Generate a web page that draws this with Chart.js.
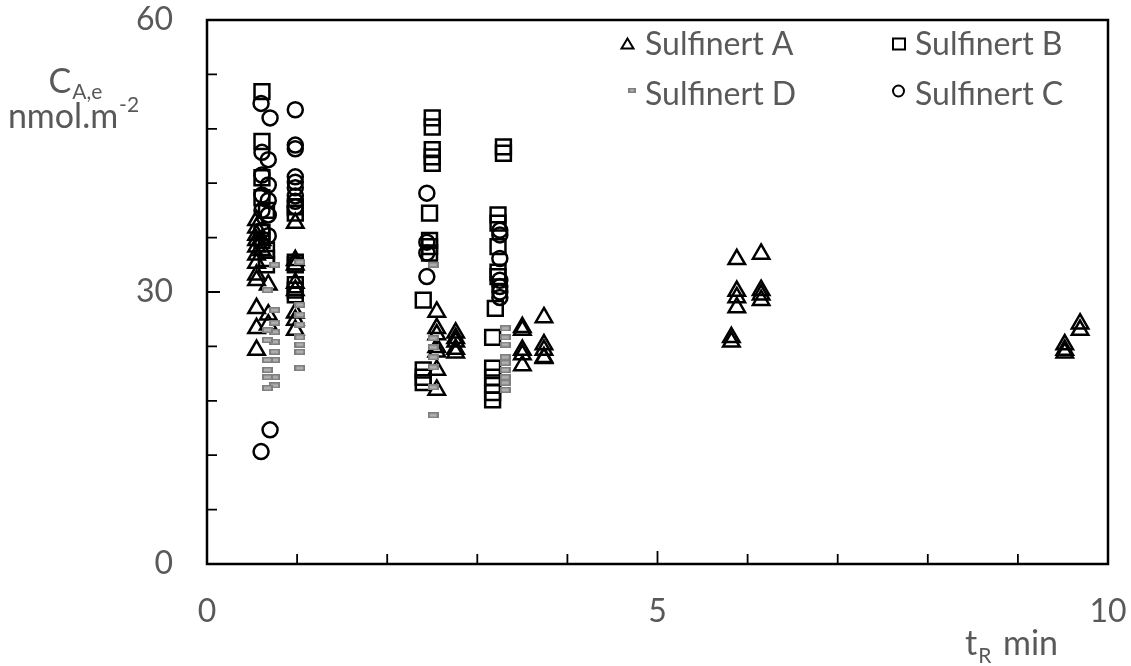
<!DOCTYPE html>
<html>
<head>
<meta charset="utf-8">
<title>Sulfinert C_A,e vs t_R</title>
<script src="https://cdn.jsdelivr.net/npm/chart.js@4.4.1/dist/chart.umd.min.js"></script>
<style>
  html, body { margin: 0; padding: 0; background: #fff; }
  #wrap { width: 1131px; height: 666px; position: relative; }
</style>
</head>
<body>
<div id="wrap"><canvas id="chart"></canvas></div>
<script>
// 保持時間 t_R (min) と C_A,e (nmol.m-2) — 図から読み取った値
const sulfinertA_t = [0.55, 0.55, 0.55, 0.55, 0.55, 0.55, 0.55, 0.55, 0.55, 0.55, 0.55, 0.55,
  0.61, 0.61, 0.68, 0.68, 0.68,
  0.98, 0.98, 0.98, 0.98, 0.98, 0.98, 0.98, 0.98,
  2.55, 2.55, 2.55, 2.55, 2.55, 2.55, 2.55,
  2.76, 2.76, 2.76, 2.76, 2.76,
  3.50, 3.50, 3.50, 3.50, 3.50,
  3.74, 3.74, 3.74, 3.74, 3.74,
  5.82, 5.82, 5.88, 5.88, 5.88, 5.88,
  6.15, 6.15, 6.15, 6.15,
  9.52, 9.52, 9.52, 9.69, 9.69];
const sulfinertA_c = [37.9, 37.1, 36.3, 35.7, 35.0, 34.1, 33.2, 31.9, 31.3, 28.2, 26.0, 23.6,
  35.7, 34.6, 30.8, 27.5, 26.4,
  37.6, 33.5, 33.0, 31.0, 30.2, 27.7, 26.9, 25.8,
  27.8, 26.0, 25.3, 23.9, 23.4, 21.4, 19.2,
  25.5, 24.9, 24.5, 23.7, 23.3,
  26.1, 25.8, 23.6, 23.1, 21.9,
  27.2, 24.2, 23.6, 22.8, 22.7,
  25.0, 24.5, 33.6, 30.1, 29.4, 28.3,
  34.2, 30.2, 29.7, 29.1,
  24.2, 23.6, 23.3, 26.5, 25.8];

const sulfinertB_t = [0.61, 0.61, 0.61, 0.61, 0.61, 0.61,
  0.66, 0.66, 0.66, 0.66,
  0.98, 0.98, 0.98, 0.98, 0.98, 0.98, 0.98,
  2.50, 2.50, 2.50, 2.50, 2.50,
  2.47, 2.47, 2.47, 2.47,
  2.40, 2.40, 2.40, 2.40,
  3.29, 3.29,
  3.23, 3.23, 3.23, 3.23, 3.23,
  3.20,
  3.17, 3.17, 3.17, 3.17, 3.17, 3.17];
const sulfinertB_c = [52.1, 46.6, 42.6, 40.4, 36.6, 35.7,
  39.0, 34.6, 33.7, 33.0,
  39.4, 38.7, 33.3, 33.0, 30.8, 30.2, 29.7,
  49.2, 48.2, 45.7, 44.9, 44.2,
  38.7, 35.7, 35.0, 34.3,
  29.1, 21.4, 20.6, 20.0,
  46.0, 45.3,
  38.5, 37.6, 35.0, 32.2, 31.7,
  28.2,
  25.0, 21.6, 20.6, 19.7, 18.9, 18.1];

const sulfinertC_t = [0.60, 0.60, 0.70, 0.70,
  0.61, 0.61, 0.61, 0.61, 0.61,
  0.68, 0.68, 0.68, 0.68, 0.68,
  0.98, 0.98, 0.98, 0.98, 0.98, 0.98, 0.98, 0.98, 0.98,
  2.44, 2.44, 2.44, 2.44,
  3.25, 3.25, 3.25, 3.25, 3.25, 3.25, 3.25];
const sulfinertC_c = [50.8, 12.4, 49.2, 14.8,
  45.4, 42.9, 40.7, 39.0, 36.8,
  44.6, 41.8, 40.1, 38.5, 36.2,
  50.1, 46.2, 45.8, 42.7, 42.1, 41.5, 40.6, 40.0, 39.4,
  40.9, 35.5, 34.3, 31.7,
  36.8, 36.3, 33.7, 31.3, 30.6, 30.0, 29.4];

const sulfinertD_t = [0.75, 0.75, 0.75, 0.75, 0.75, 0.75, 0.75, 0.75, 0.75,
  0.67, 0.67, 0.67, 0.67, 0.67, 0.67, 0.67,
  1.03, 1.03, 1.03, 1.03, 1.03, 1.03, 1.03, 1.03,
  2.51, 2.51, 2.51, 2.51, 2.51, 2.51, 2.51,
  3.31, 3.31, 3.31, 3.31, 3.31, 3.31, 3.31, 3.31, 3.31];
const sulfinertD_c = [33.0, 28.0, 26.6, 25.6, 24.5, 23.4, 22.5, 20.6, 19.7,
  30.2, 25.8, 24.7, 22.5, 21.4, 20.6, 19.4,
  33.3, 28.6, 27.5, 26.4, 25.0, 24.2, 23.4, 21.6,
  33.0, 24.9, 23.9, 22.8, 21.7, 19.5, 16.4,
  26.0, 25.0, 24.2, 22.8, 22.2, 21.4, 20.6, 20.0, 19.2];

// 軸の目盛り（ラベルは主目盛りだけ）
const xMajorTicks = [0, 5, 10];
const yMajorTicks = [0, 30, 60];

const TEXT_COLOR = "#595959";
const FONT = "Lato, 'Liberation Sans', sans-serif";

function toPoints(ts, cs) {
  return ts.map((t, i) => ({ x: t, y: cs[i] }));
}

// Sulfinert D の灰色の短い棒マーカー
function makeDashMarker(w, h) {
  const c = document.createElement("canvas");
  c.width = w;
  c.height = h;
  const g = c.getContext("2d");
  g.fillStyle = "#7f7f7f";
  g.fillRect(0, 0, w, h);
  g.fillStyle = "#b0b0b0";
  g.fillRect(2, 1.5, w - 4, h - 3);
  return c;
}

/**
 * 枠・内向きの目盛り・凡例・軸タイトルを描くプラグイン
 */
const decorPlugin = {
  id: "decor",
  afterDraw(chart) {
    const ctx = chart.ctx;
    const area = chart.chartArea;
    const xs = chart.scales.x;
    const ys = chart.scales.y;
    ctx.save();

    // 枠
    ctx.strokeStyle = "#000";
    ctx.lineWidth = 2.5;
    ctx.strokeRect(area.left, area.top, area.right - area.left, area.bottom - area.top);

    // 内向き目盛り
    ctx.lineWidth = 1.8;
    ctx.beginPath();
    for (let v = 0; v <= 10; v += 1) {
      const px = xs.getPixelForValue(v);
      const len = xMajorTicks.includes(v) ? 13 : 10;
      ctx.moveTo(px, area.bottom);
      ctx.lineTo(px, area.bottom - len);
    }
    for (let v = 0; v <= 60; v += 6) {
      const py = ys.getPixelForValue(v);
      const len = yMajorTicks.includes(v) ? 13 : 10;
      ctx.moveTo(area.left, py);
      ctx.lineTo(area.left + len, py);
    }
    ctx.stroke();

    // 凡例
    ctx.fillStyle = TEXT_COLOR;
    ctx.font = "32px " + FONT;
    ctx.textBaseline = "alphabetic";
    ctx.textAlign = "left";
    ctx.fillText("Sulfinert A", 645, 55);
    ctx.fillText("Sulfinert B", 915, 55);
    ctx.fillText("Sulfinert D", 645, 105);
    ctx.fillText("Sulfinert C", 915, 105);

    ctx.strokeStyle = "#000";
    ctx.lineWidth = 2;
    ctx.beginPath();
    ctx.moveTo(627.5, 38.5);
    ctx.lineTo(633.5, 48.5);
    ctx.lineTo(621.5, 48.5);
    ctx.closePath();
    ctx.stroke();
    ctx.strokeRect(893, 38.5, 12, 11);
    ctx.beginPath();
    ctx.arc(898.5, 91, 5.5, 0, Math.PI * 2);
    ctx.stroke();
    ctx.drawImage(makeDashMarker(8, 5), 628, 88);

    // Y 軸タイトル C_A,e / nmol.m-2
    ctx.fillStyle = TEXT_COLOR;
    ctx.font = "34px " + FONT;
    const cW = ctx.measureText("C").width;
    ctx.font = "21px " + FONT;
    const subW = ctx.measureText("A,e").width;
    let x0 = 75 - (cW + subW) / 2;
    ctx.font = "34px " + FONT;
    ctx.fillText("C", x0, 93);
    ctx.font = "21px " + FONT;
    ctx.fillText("A,e", x0 + cW + 1, 99);

    ctx.font = "34px " + FONT;
    const nW = ctx.measureText("nmol.m").width;
    ctx.font = "21px " + FONT;
    const supW = ctx.measureText("-2").width;
    x0 = 73 - (nW + supW) / 2;
    ctx.font = "34px " + FONT;
    ctx.fillText("nmol.m", x0, 128);
    ctx.font = "21px " + FONT;
    ctx.fillText("-2", x0 + nW + 1, 112);

    // X 軸タイトル t_R min
    ctx.font = "34px " + FONT;
    ctx.fillText("t", 965, 655);
    const tW = ctx.measureText("t").width;
    ctx.font = "21px " + FONT;
    ctx.fillText("R", 965 + tW + 1, 663);
    ctx.font = "34px " + FONT;
    ctx.fillText("min", 1003, 655);

    ctx.restore();
  },
};

const markerCommon = {
  backgroundColor: "rgba(0,0,0,0)",
  borderColor: "#000",
  borderWidth: 2.5,
};

new Chart(document.getElementById("chart"), {
  type: "scatter",
  data: {
    datasets: [
      {
        label: "Sulfinert D",
        data: toPoints(sulfinertD_t, sulfinertD_c),
        pointStyle: makeDashMarker(11, 6),
        pointRadius: 5,
      },
      {
        label: "Sulfinert A",
        data: toPoints(sulfinertA_t, sulfinertA_c),
        pointStyle: "triangle",
        pointRadius: 9.5,
        ...markerCommon,
      },
      {
        label: "Sulfinert B",
        data: toPoints(sulfinertB_t, sulfinertB_c),
        pointStyle: "rect",
        pointRadius: 10.5,
        ...markerCommon,
      },
      {
        label: "Sulfinert C",
        data: toPoints(sulfinertC_t, sulfinertC_c),
        pointStyle: "circle",
        pointRadius: 7.5,
        ...markerCommon,
      },
    ],
  },
  options: {
    responsive: true,
    maintainAspectRatio: false,
    animation: false,
    layout: { padding: { top: 20, right: 23, bottom: 0, left: 0 } },
    plugins: {
      legend: { display: false },
      tooltip: { enabled: false },
    },
    scales: {
      x: {
        type: "linear",
        min: 0,
        max: 10,
        grid: { display: false, drawTicks: false },
        border: { display: false },
        ticks: {
          stepSize: 1,
          autoSkip: false,
          maxRotation: 0,
          padding: 28,
          color: TEXT_COLOR,
          font: { family: FONT, size: 32 },
          callback: (v) => (xMajorTicks.includes(v) ? String(v) : ""),
        },
        afterFit: (scale) => {
          scale.height = 102;
          scale.paddingLeft = 0;
          scale.paddingRight = 0;
        },
      },
      y: {
        type: "linear",
        min: 0,
        max: 60,
        grid: { display: false, drawTicks: false },
        border: { display: false },
        ticks: {
          stepSize: 6,
          autoSkip: false,
          padding: 34,
          color: TEXT_COLOR,
          font: { family: FONT, size: 32 },
          callback: (v) => (yMajorTicks.includes(v) ? String(v) : ""),
        },
        afterFit: (scale) => {
          scale.width = 207;
          scale.paddingTop = 0;
          scale.paddingBottom = 0;
        },
      },
    },
  },
  plugins: [decorPlugin],
});
</script>
</body>
</html>
